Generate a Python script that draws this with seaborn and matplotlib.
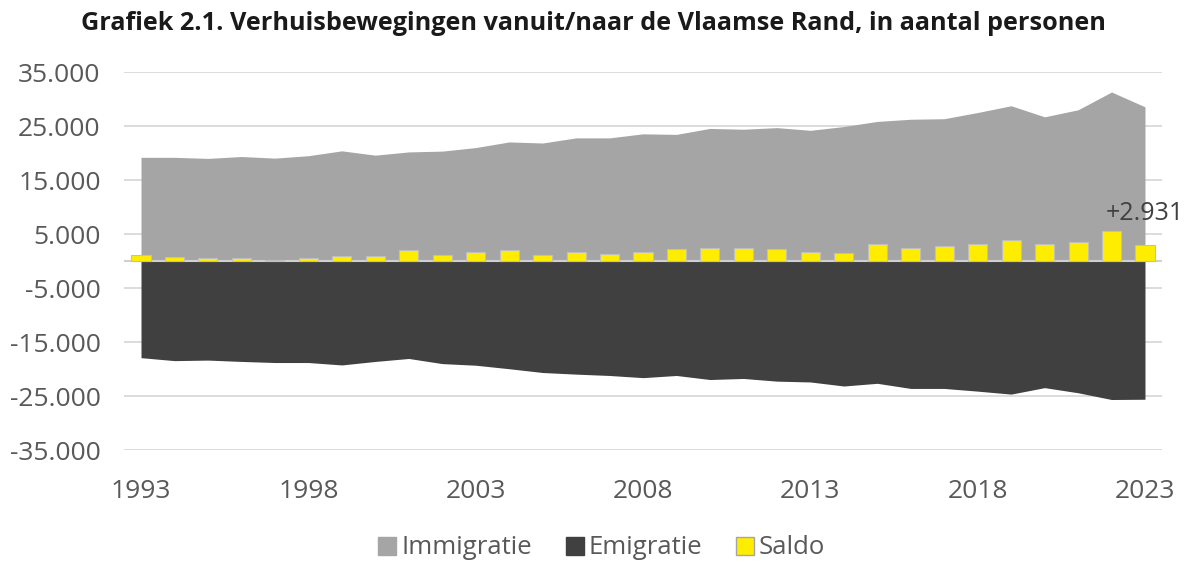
import seaborn as sns
import pandas as pd
import matplotlib.pyplot as plt
from matplotlib.patches import Patch

years = list(range(1993, 2024))
immigratie = [19200, 19200, 19000, 19350, 19050, 19500, 20400, 19600, 20200, 20350,
              21000, 22050, 21850, 22800, 22800, 23550, 23450, 24550, 24400, 24700,
              24200, 24900, 25850, 26250, 26350, 27500, 28750, 26700, 28000, 31300, 28550]
emigratie = [-17900, -18450, -18350, -18600, -18800, -18800, -19250, -18600, -18050, -19000,
             -19300, -19950, -20650, -20950, -21200, -21600, -21200, -21950, -21750, -22250,
             -22400, -23150, -22650, -23600, -23600, -24100, -24650, -23450, -24400, -25650, -25600]
saldo = [1150, 750, 600, 600, 100, 600, 1000, 850, 1950, 1200,
         1700, 2050, 1200, 1650, 1350, 1700, 2200, 2450, 2500, 2300,
         1650, 1500, 3150, 2500, 2700, 3150, 3900, 3100, 3450, 5550, 2931]
xtick_years = [1993, 1998, 2003, 2008, 2013, 2018, 2023]
yticks = list(range(-35000, 35001, 10000))

title = "Grafiek 2.1. Verhuisbewegingen vanuit/naar de Vlaamse Rand, in aantal personen"

sns.set_style("white")
plt.rcParams['font.family'] = ['Open Sans', 'DejaVu Sans']

fig, ax = plt.subplots(figsize=(11.87, 5.63), dpi=100)
fig.subplots_adjust(left=0.1047, right=0.9787, top=0.8721, bottom=0.2007)

ax.fill_between(years, immigratie, 0, color='#A5A5A5', lw=0, zorder=1)
ax.fill_between(years, emigratie, 0, color='#404040', lw=0, zorder=1)
ax.axhline(0, color='#D0D0D0', lw=1.5, zorder=2)

df = pd.DataFrame({'jaar': years, 'saldo': saldo})
sns.barplot(data=df, x='jaar', y='saldo', native_scale=True, width=0.57,
            color='#FFED00', saturation=1, edgecolor='#BFBFBF', linewidth=0.8,
            ax=ax, zorder=3)

last = saldo[-1]
ax.annotate("+" + f"{last:,}".replace(',', '.'), xy=(years[-1], last),
            xytext=(0, 14), textcoords='offset points', ha='center', va='bottom',
            fontsize=18, color='#404040')

ax.set_xlim(1992.5, 2023.5)
ax.set_ylim(-35000, 35000)
ax.set_yticks(yticks)
ax.set_yticklabels([f"{v:,}".replace(',', '.') for v in yticks])
ax.set_xticks(xtick_years)
ax.set_xticklabels([str(y) for y in xtick_years])
ax.set_xlabel("")
ax.set_ylabel("")
ax.tick_params(axis='y', length=0, pad=17, labelsize=19, labelcolor='#595959')
ax.tick_params(axis='x', length=0, pad=21, labelsize=19, labelcolor='#595959')
ax.grid(axis='y', color='#D9D9D9', lw=1.3)
ax.set_axisbelow(True)
sns.despine(left=True, bottom=True)

fig.suptitle(title, fontsize=18.2, fontweight='bold', color='#1A1A1A', y=1 - 23 / 563, va='center')

handles = [Patch(facecolor='#A5A5A5', edgecolor='#A5A5A5'),
           Patch(facecolor='#404040', edgecolor='#404040'),
           Patch(facecolor='#FFED00', edgecolor='#A5A5A5')]
fig.legend(handles, ['Immigratie', 'Emigratie', 'Saldo'], loc='center',
           bbox_to_anchor=(0.507, 1 - 548 / 563), ncol=3, frameon=False,
           handlelength=0.7, handleheight=0.7, handletextpad=0.2,
           columnspacing=1.3, fontsize=18.5, labelcolor='#595959')

fig.savefig('out.png', dpi=100)
